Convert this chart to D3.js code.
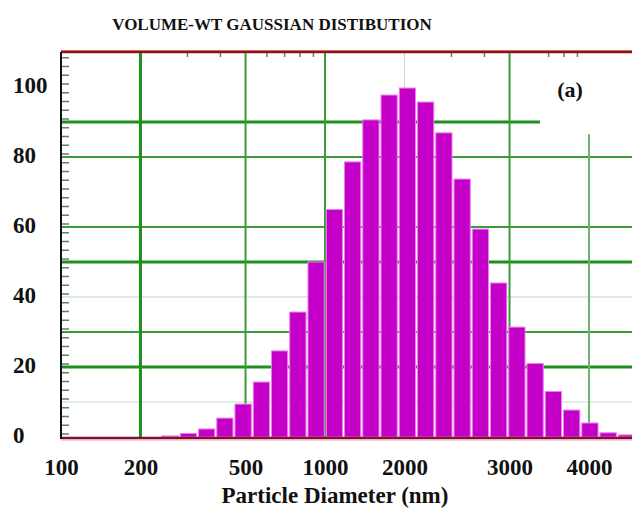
<!DOCTYPE html>
<html>
<head>
<meta charset="utf-8">
<script src="https://cdn.jsdelivr.net/npm/d3@7"></script>
<style>
  body { margin: 0; background: #fff; }
  text { font-family: "Liberation Serif", "Times New Roman", serif; font-weight: bold; fill: #111; }
</style>
</head>
<body>
<div class="chart"></div>
<script>
// bin edges (nm) and volume-weighted % per bin
var binEdges = [241, 283, 332, 389, 456, 535, 627, 735, 862, 1011, 1185, 1390, 1630, 1911,
                2241, 2628, 3081, 3613, 4236, 4967, 5824, 6830, 8008, 9390, 11010, 12910, 15140];
var volume = [0.3, 1.0, 2.3, 5.4, 9.4, 15.7, 24.6, 35.7, 50, 65, 78.6, 90.6, 97.7, 99.7,
              95.7, 86.9, 73.7, 59.4, 44, 31.4, 21, 13, 7.7, 4, 1.2, 0.6];
var xTickValues = [100, 200, 500, 1000, 2000, 5000, 10000];
var xTickLabels = ["100", "200", "500", "1000", "2000", "3000", "4000"];
var yTicks = [0, 20, 40, 60, 80, 100];
var topMinor = [300, 400, 600, 700, 800, 900, 3000, 4000, 7000, 8000, 9000];

var width = 632, height = 510;
var plotLeft = 61, plotRight = 632, plotTop = 52, plotBottom = 437;

var svg = d3.select('.chart')
    .append('svg')
    .attr("width", width)
    .attr("height", height);

var x = d3.scaleLog().domain([100, 14550]).range([plotLeft, plotRight]);
var y = d3.scaleLinear().domain([0, 110]).range([plotBottom, plotTop]);

// horizontal grid: [value, stroke width, colour, end]
var hGrid = [
  [90, 3, "#1f8f1f", 540],
  [80, 2, "#3c9c3c", plotRight],
  [60, 2, "#3c9c3c", plotRight],
  [50, 3, "#1f8f1f", plotRight],
  [40, 1, "#b9d8b9", plotRight],
  [30, 2, "#3c9c3c", plotRight],
  [20, 3, "#1f8f1f", plotRight],
  [10, 1, "#c4dfc4", plotRight]
];
svg.append("g").selectAll("line")
    .data(hGrid)
    .enter().append("line")
    .attr("x1", plotLeft).attr("x2", function (d) { return d[3]; })
    .attr("y1", function (d) { return y(d[0]); })
    .attr("y2", function (d) { return y(d[0]); })
    .attr("stroke-width", function (d) { return d[1]; })
    .attr("stroke", function (d) { return d[2]; });

// vertical grid: [value, stroke width, colour, top value]
var vGrid = [
  [200, 3, "#1f8f1f", 110],
  [500, 2, "#3c9c3c", 110],
  [1000, 2, "#3c9c3c", 110],
  [2000, 1, "#c8dcc8", 110],
  [5000, 2, "#3c9c3c", 110],
  [10000, 2, "#6fb26f", 86.5]
];
svg.append("g").selectAll("line")
    .data(vGrid)
    .enter().append("line")
    .attr("x1", function (d) { return x(d[0]); })
    .attr("x2", function (d) { return x(d[0]); })
    .attr("y1", function (d) { return y(d[3]); })
    .attr("y2", plotBottom)
    .attr("stroke-width", function (d) { return d[1]; })
    .attr("stroke", function (d) { return d[2]; });

// bars
svg.append("g").selectAll("rect")
    .data(volume)
    .enter().append("rect")
    .attr("x", function (d, i) { return x(binEdges[i]); })
    .attr("width", function (d, i) { return x(binEdges[i + 1]) - x(binEdges[i]) - 2; })
    .attr("y", function (d) { return y(d); })
    .attr("height", function (d) { return plotBottom - y(d); })
    .attr("fill", "#c400c8")
    .attr("stroke", "#ea80ee")
    .attr("stroke-width", 1);

// left minor ticks
svg.append("g")
    .attr("transform", "translate(" + plotLeft + ",0)")
    .call(d3.axisRight(y).tickValues(d3.range(1, 110, 2.5)).tickSize(8).tickFormat(""))
    .call(function (g) { g.select(".domain").remove(); })
    .selectAll("line").attr("stroke", "#5f7f6a").attr("stroke-width", 1.5);

// top minor ticks
svg.append("g")
    .attr("transform", "translate(0," + plotTop + ")")
    .call(d3.axisBottom(x).tickValues(topMinor).tickSize(5).tickFormat(""))
    .call(function (g) { g.select(".domain").remove(); })
    .selectAll("line").attr("stroke", "#777").attr("stroke-width", 1.5);

// frame
svg.append("line").attr("x1", plotLeft).attr("x2", plotRight).attr("y1", plotTop - 1.5).attr("y2", plotTop - 1.5)
    .attr("stroke", "#f08080").attr("stroke-width", 1);
svg.append("line").attr("x1", plotLeft).attr("x2", plotRight).attr("y1", plotTop).attr("y2", plotTop)
    .attr("stroke", "#8e1414").attr("stroke-width", 2.5);
svg.append("line").attr("x1", plotLeft).attr("x2", plotRight).attr("y1", plotBottom + 1).attr("y2", plotBottom + 1)
    .attr("stroke", "#7d1034").attr("stroke-width", 2.5);
svg.append("line").attr("x1", plotLeft).attr("x2", plotRight).attr("y1", plotBottom + 3).attr("y2", plotBottom + 3)
    .attr("stroke", "#f0a0b0").attr("stroke-width", 1);
svg.append("line").attr("x1", plotLeft).attr("x2", plotLeft).attr("y1", plotTop).attr("y2", plotBottom + 2)
    .attr("stroke", "#111").attr("stroke-width", 2);

// x axis labels
var xAxis = d3.axisBottom(x).tickValues(xTickValues)
    .tickFormat(function (d, i) { return xTickLabels[i]; })
    .tickSize(0);
svg.append("g")
    .attr("transform", "translate(0," + plotBottom + ")")
    .call(xAxis)
    .call(function (g) { g.select(".domain").remove(); })
    .selectAll("text")
    .attr("y", 38).attr("dy", 0)
    .style("font-size", "23px").style("fill", "#111");

// y axis labels
var yAxis = d3.axisLeft(y).tickValues(yTicks).tickSize(0);
svg.append("g")
    .attr("transform", "translate(13,0)")
    .call(yAxis)
    .call(function (g) { g.select(".domain").remove(); })
    .selectAll("text")
    .attr("x", 0).attr("y", 5).attr("dy", 0)
    .style("text-anchor", "start")
    .style("font-size", "23px").style("fill", "#111");

svg.append("text")
    .attr("x", 272).attr("y", 30)
    .style("text-anchor", "middle").style("font-size", "17px")
    .text("VOLUME-WT GAUSSIAN DISTIBUTION");

svg.append("text")
    .attr("x", 335).attr("y", 503)
    .style("text-anchor", "middle").style("font-size", "23px")
    .text("Particle Diameter (nm)");

svg.append("text")
    .attr("x", 570).attr("y", 97)
    .style("text-anchor", "middle").style("font-size", "22px")
    .text("(a)");
</script>
</body>
</html>
